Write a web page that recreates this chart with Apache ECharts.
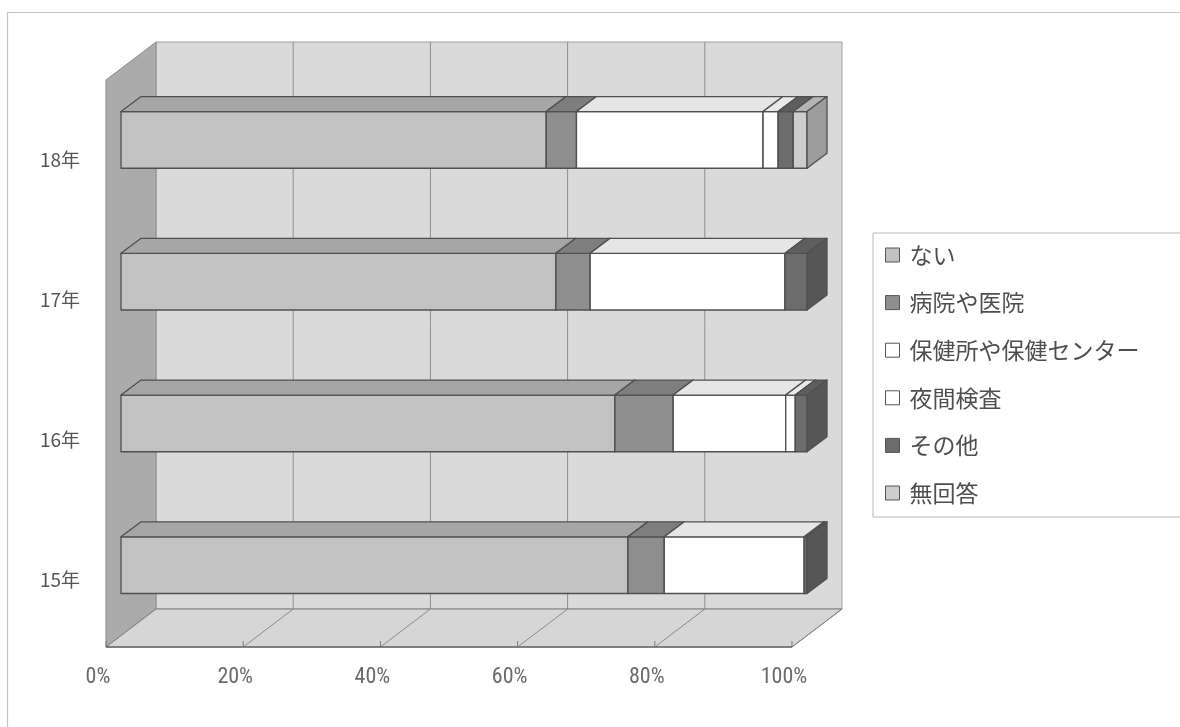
<!DOCTYPE html>
<html>
<head>
<meta charset="utf-8">
<script src="https://cdn.jsdelivr.net/npm/echarts@6/dist/echarts.min.js"></script>
<style>
  html, body { margin: 0; padding: 0; background: #ffffff; }
  #chart { width: 1180px; height: 727px; }
</style>
</head>
<body>
<div id="chart"></div>
<script>
// Survey years (bottom to top) and answer categories
const categories = ['15年', '16年', '17年', '18年'];
const seriesNames = ['ない', '病院や医院', '保健所や保健センター', '夜間検査', 'その他', '無回答'];

// Share of answers per year, in percent
const naiValues      = [73.9, 72.0, 63.4, 62.0];
const byoinValues    = [5.3, 8.5, 5.0, 4.4];
const hokenValues    = [20.4, 16.4, 28.4, 27.2];
const yakanValues    = [0, 1.4, 0, 2.2];
const sonotaValues   = [0.4, 1.7, 3.2, 2.2];
const mukaitouValues = [0, 0, 0, 2.0];

const tickValues = [0, 20, 40, 60, 80, 100];
const tickLabels = ['0%', '20%', '40%', '60%', '80%', '100%'];

const valueSets = [naiValues, byoinValues, hokenValues, yakanValues, sonotaValues, mukaitouValues];

// Face colours: front, top, side
const faceColors = [
  { front: '#c2c2c2', top: '#a6a6a6', side: '#9a9a9a' },
  { front: '#8e8e8e', top: '#7e7e7e', side: '#6e6e6e' },
  { front: '#ffffff', top: '#e6e6e6', side: '#cfcfcf' },
  { front: '#ffffff', top: '#eaeaea', side: '#d2d2d2' },
  { front: '#6c6c6c', top: '#5e5e5e', side: '#565656' },
  { front: '#cdcdcd', top: '#b4b4b4', side: '#9c9c9c' }
];

// Perspective offsets for the box around the bars and for bar depth
const BACK = [35, -27];
const FRONT = [-15, 11];
const BAR_DEPTH = [20, -15];
const EDGE = '#505050';

// Build stacked [category, start, end] triples
const stackedData = valueSets.map(() => []);
categories.forEach((c, ci) => {
  let acc = 0;
  valueSets.forEach((vals, si) => {
    const v = vals[ci];
    stackedData[si].push([ci, acc, acc + v]);
    acc += v;
  });
});

function renderBox(params, api) {
  const cs = params.coordSys;
  const gx = cs.x, gy = cs.y, gw = cs.width, gh = cs.height;
  const bx = gx + BACK[0], by = gy + BACK[1];
  const fx = gx + FRONT[0], fy = gy + FRONT[1];
  const children = [];
  // back wall
  children.push({
    type: 'rect', shape: { x: bx, y: by, width: gw, height: gh },
    style: { fill: '#dadada', stroke: '#a0a0a0', lineWidth: 1 }
  });
  // left wall
  children.push({
    type: 'polygon',
    shape: { points: [[fx, fy], [bx, by], [bx, by + gh], [fx, fy + gh]] },
    style: { fill: '#ababab', stroke: '#8c8c8c', lineWidth: 1 }
  });
  // floor
  children.push({
    type: 'polygon',
    shape: { points: [[bx, by + gh], [bx + gw, by + gh], [fx + gw, fy + gh], [fx, fy + gh]] },
    style: { fill: '#d6d6d6', stroke: '#7a7a7a', lineWidth: 1 }
  });
  // gridlines on the back wall and across the floor
  tickValues.forEach(v => {
    const x = api.coord([v, 0])[0];
    if (v > 0 && v < 100) {
      children.push({
        type: 'line',
        shape: { x1: x + BACK[0], y1: by, x2: x + BACK[0], y2: by + gh },
        style: { stroke: '#8e8e8e', lineWidth: 1 }
      });
    }
    if (v > 0) {
      children.push({
        type: 'line',
        shape: { x1: x + BACK[0], y1: by + gh, x2: x + FRONT[0], y2: fy + gh },
        style: { stroke: '#8a8a8a', lineWidth: 1 }
      });
    }
    children.push({
      type: 'line',
      shape: { x1: x + FRONT[0], y1: fy + gh - 6, x2: x + FRONT[0], y2: fy + gh },
      style: { stroke: '#7a7a7a', lineWidth: 1 }
    });
  });
  // front floor edge
  children.push({
    type: 'line',
    shape: { x1: fx, y1: fy + gh, x2: fx + gw, y2: fy + gh },
    style: { stroke: '#6e6e6e', lineWidth: 1.5 }
  });
  return { type: 'group', children };
}

function makeBarRenderer(si) {
  const col = faceColors[si];
  return function (params, api) {
    const ci = api.value(0), s = api.value(1), e = api.value(2);
    if (e - s <= 0) return null;
    const p0 = api.coord([s, ci]);
    const p1 = api.coord([e, ci]);
    const h = api.size([0, 1])[1] * 0.4;
    const y0 = p0[1] - h / 2;
    const x0 = p0[0], x1 = p1[0];
    const dx = BAR_DEPTH[0], dy = BAR_DEPTH[1];
    const st = { stroke: EDGE, lineWidth: 1.3, lineJoin: 'round' };
    return {
      type: 'group',
      children: [
        { type: 'rect', shape: { x: x0, y: y0, width: x1 - x0, height: h },
          style: Object.assign({ fill: col.front }, st) },
        { type: 'polygon', shape: { points: [[x0, y0], [x1, y0], [x1 + dx, y0 + dy], [x0 + dx, y0 + dy]] },
          style: Object.assign({ fill: col.top }, st) },
        { type: 'polygon', shape: { points: [[x1, y0], [x1 + dx, y0 + dy], [x1 + dx, y0 + dy + h], [x1, y0 + h]] },
          style: Object.assign({ fill: col.side }, st) }
      ]
    };
  };
}

const chart = echarts.init(document.getElementById('chart'), null, { renderer: 'canvas' });

const series = [{
  type: 'custom',
  name: 'box',
  xAxisIndex: 0, yAxisIndex: 0,
  data: [[0, 0, 0]],
  renderItem: renderBox,
  silent: true,
  z: 1
}];
seriesNames.forEach((name, si) => {
  series.push({
    type: 'custom',
    name,
    xAxisIndex: 0, yAxisIndex: 0,
    data: stackedData[si],
    encode: { x: [1, 2], y: 0 },
    renderItem: makeBarRenderer(si),
    itemStyle: { color: faceColors[si].front, borderColor: '#555', borderWidth: 1 },
    z: 2
  });
});

const option = {
  animation: false,
  backgroundColor: '#ffffff',
  textStyle: { fontFamily: '"Noto Sans CJK JP", "Noto Sans", sans-serif' },
  graphic: [{
    type: 'rect', left: 5, top: 10, shape: { width: 1300, height: 900 },
    style: { fill: 'none', stroke: '#c4c4c4', lineWidth: 1.2 }, silent: true
  }],
  grid: [
    { left: 121, top: 69, width: 686, height: 567 },
    { left: 98, top: 600, width: 686, height: 47 },
    { left: 88, top: 90, width: 20, height: 560 }
  ],
  xAxis: [
    { gridIndex: 0, type: 'value', min: 0, max: 100, interval: 20, show: false },
    { gridIndex: 1, type: 'value', min: 0, max: 100, interval: 20,
      axisLine: { show: false }, axisTick: { show: false }, splitLine: { show: false },
      axisLabel: {
        margin: 19,
        formatter: v => tickLabels[tickValues.indexOf(v)],
        color: '#6a6a6a', fontSize: 22,
        fontFamily: '"Liberation Sans Narrow", "Roboto Condensed", "Liberation Sans", sans-serif'
      } },
    { gridIndex: 2, type: 'value', show: false }
  ],
  yAxis: [
    { gridIndex: 0, type: 'category', data: categories, show: false },
    { gridIndex: 1, type: 'value', show: false },
    { gridIndex: 2, type: 'category', data: categories,
      axisLine: { show: false }, axisTick: { show: false }, splitLine: { show: false },
      axisLabel: { margin: 8, color: '#555555', fontSize: 19,
        fontFamily: '"Noto Sans CJK JP", sans-serif' } }
  ],
  legend: {
    orient: 'vertical',
    left: 873, top: 233,
    padding: [10, 80, 12, 12],
    itemWidth: 14, itemHeight: 14,
    itemGap: 23.6,
    backgroundColor: '#ffffff',
    borderColor: '#b8b8b8', borderWidth: 1,
    data: seriesNames.map((n, i) => ({ name: n, icon: 'rect',
      itemStyle: { color: faceColors[i].front, borderColor: '#555555', borderWidth: 1 } })),
    textStyle: { fontSize: 23, lineHeight: 24, color: '#4e4e4e', padding: [0, 0, 0, 5],
      fontFamily: '"Noto Sans CJK JP", sans-serif' },
    selectedMode: false
  },
  series
};

chart.setOption(option);
</script>
</body>
</html>
